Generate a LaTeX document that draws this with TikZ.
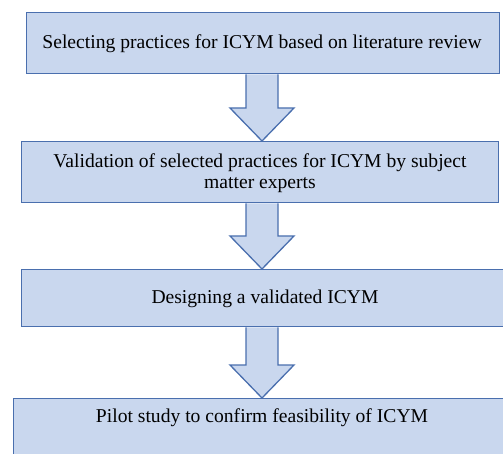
\documentclass[tikz,border=0pt]{standalone}
\usepackage{fontspec}
\setmainfont{Liberation Serif}
\usetikzlibrary{calc}
\definecolor{boxfill}{HTML}{C9D7EE}
\definecolor{boxline}{HTML}{4A6FAE}
\tikzset{
  stage/.style={draw=boxline, fill=boxfill, line width=1.3pt, rectangle, anchor=north west, inner sep=0pt},
  lbl/.style={font=\fontsize{19.6}{21.5}\selectfont, align=center, inner sep=0pt, text=black},
  bigarrow/.style={draw=boxline, fill=boxfill, line width=1.3pt, line join=miter}
}
\begin{document}
\begin{tikzpicture}[x=1pt,y=-1pt]
\useasboundingbox (0,0) rectangle (503,454);
\node[stage, minimum width=473pt, minimum height=61pt] (b1) at (26,12) {};
\node[stage, minimum width=477pt, minimum height=61pt] (b2) at (21,141) {};
\node[stage, minimum width=500pt, minimum height=57pt] (b3) at (21,269) {};
\node[stage, minimum width=510pt, minimum height=80pt] (b4) at (13,398) {};
\node[lbl] (t1) at (262,44) {Selecting practices for ICYM based on literature review};
\node[lbl] (t2) at (260,173) {Validation of selected practices for ICYM by subject\\matter experts};
\node[lbl] (t3) at (265,299) {Designing a validated ICYM};
\node[lbl] (t4) at (262,418) {Pilot study to confirm feasibility of ICYM};
\foreach \a/\b in {b1/b2,b2/b3,b3/b4}{
  \coordinate (top) at (262,0 |- \a.south);
  \coordinate (tip) at (262,0 |- \b.north);
  \draw[bigarrow] ($(top)+(-16,0)$) -- ($(tip)+(-16,-33)$) -- ($(tip)+(-32,-33)$) -- (tip)
     -- ($(tip)+(32,-33)$) -- ($(tip)+(16,-33)$) -- ($(top)+(16,0)$);
}
\end{tikzpicture}
\end{document}
